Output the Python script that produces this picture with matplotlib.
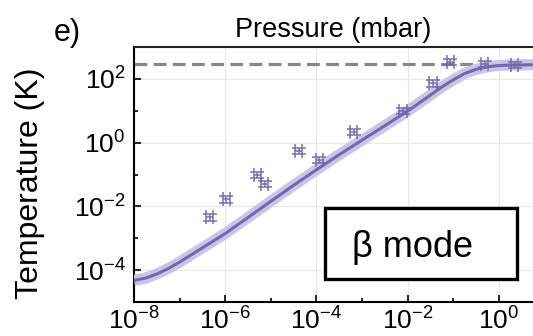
import numpy as np
import matplotlib.pyplot as plt
from matplotlib.ticker import NullFormatter
from matplotlib.patches import Rectangle

plt.rcParams['font.family'] = ['Liberation Sans', 'DejaVu Sans']
plt.rcParams['mathtext.fontset'] = 'custom'
plt.rcParams['mathtext.rm'] = 'Liberation Sans'
plt.rcParams['mathtext.it'] = 'Liberation Sans:italic'

# Measured points (pressure in mbar, temperature in K)
p_meas = [4.6e-7, 1.05e-6, 5.1e-6, 7.4e-6, 4.1e-5, 1.15e-4, 6.6e-4,
          7.9e-3, 0.036, 0.087, 0.49, 2.24]
T_meas = [4.5e-3, 0.0166, 0.098, 0.051, 0.54, 0.28, 2.19,
          10.0, 72.0, 331.0, 295.0, 275.0]
p_err_factor = 1.2   # relative errors
T_err_factor = 1.25

# Model curve
p_fit_exp = [-8, -7.75, -7.5, -7.25, -7, -6.5, -6, -5.5, -5, -4.5, -4,
             -3.5, -3, -2.5, -2, -1.75, -1.5, -1.25, -1, -0.75, -0.5,
             -0.25, 0, 0.25, 0.5, 0.75]
T_fit = [4.8e-5, 5.6e-5, 7.6e-5, 1.12e-4, 1.8e-4, 5.0e-4, 1.41e-3,
         4.5e-3, 0.0145, 0.046, 0.141, 0.42, 1.2, 3.4, 9.8, 17.4,
         31.0, 56.0, 93.0, 148.0, 200.0, 240.0, 263.0, 272.0, 275.0, 279.0]
p_fit = [10.0 ** e for e in p_fit_exp]

T_room = 300

purple = '#7466b3'

fig = plt.figure(figsize=(5.33, 3.36), dpi=100)
ax = fig.add_axes([0.2514, 0.101, 0.7486, 0.759])
ax.set_xscale('log')
ax.set_yscale('log')

ax.grid(True, which='major', color='#e8e8e8', lw=0.8, zorder=0)
ax.set_axisbelow(True)

ax.axhline(T_room, color='#878787', ls=(0, (4, 2)), lw=2.3, zorder=2)

ax.plot(p_fit, T_fit, color='#cbc4e4', lw=8, solid_capstyle='butt', zorder=3)
ax.plot(p_fit, T_fit, color=purple, lw=2.2, zorder=4)

p = np.array(p_meas)
T = np.array(T_meas)
xerr = [p - p / p_err_factor, p * p_err_factor - p]
yerr = [T - T / T_err_factor, T * T_err_factor - T]
ax.errorbar(p, T, xerr=xerr, yerr=yerr, fmt='none', ecolor=purple,
            elinewidth=1.3, capsize=5, capthick=1.3, alpha=0.8, zorder=5)

ax.set_xlim(1e-8, 10 ** 0.75)
ax.set_ylim(1e-5, 1e3)

ax.set_xticks([1e-8, 1e-6, 1e-4, 1e-2, 1])
ax.set_xticks([1e-7, 1e-5, 1e-3, 1e-1], minor=True)
ax.set_yticks([1e-4, 1e-2, 1, 1e2])
ax.set_yticks([1e-5, 1e-3, 1e-1, 1e1, 1e3], minor=True)
ax.xaxis.set_minor_formatter(NullFormatter())
ax.yaxis.set_minor_formatter(NullFormatter())
ax.tick_params(which='both', direction='in', labelsize=19, width=1.2)
ax.tick_params(which='major', length=5)
ax.tick_params(which='minor', length=3)
ax.tick_params(axis='y', pad=6)

ax.spines['right'].set_visible(False)
for s in ['left', 'bottom', 'top']:
    ax.spines[s].set_linewidth(1.5)
ax.spines['top'].set_color('#222222')

ax.set_title('Pressure (mbar)', fontsize=19.5, pad=7)
fig.text(30 / 533, 1 - 183 / 336, 'Temperature (K)', rotation=90,
         ha='center', va='center', fontsize=23)
fig.text(54 / 533, 1 - 33 / 336, 'e)', ha='left', va='center', fontsize=22)

ax.add_patch(Rectangle((0.479, 0.090), 0.481, 0.279, transform=ax.transAxes,
                       facecolor='white', edgecolor='black', lw=2.4, zorder=6))
ax.text(0.698, 0.214, 'β mode', transform=ax.transAxes, ha='center',
        va='center', fontsize=26, zorder=7)

fig.savefig('out.png', dpi=100)
